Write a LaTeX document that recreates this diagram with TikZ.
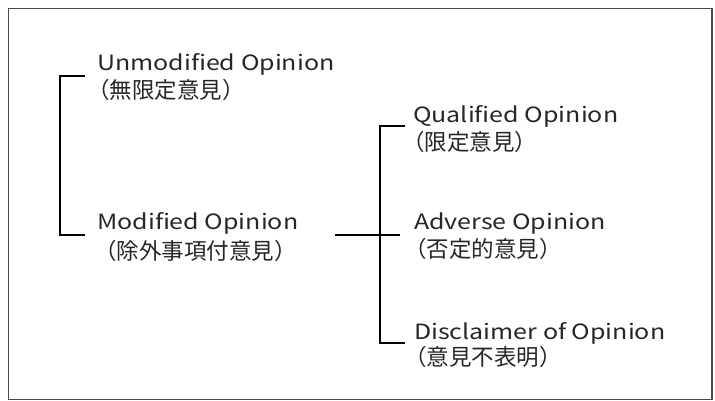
\documentclass[tikz,border=0pt]{standalone}
\usepackage{fontspec}
\setmainfont{Noto Sans CJK JP}
\newfontfamily\latinwide[FakeStretch=1.19]{Noto Sans CJK JP}
\begin{document}
\begin{tikzpicture}[x=1pt,y=-1pt,
  lbl/.style={anchor=base west,inner sep=0pt,font=\latinwide\fontsize{21}{24}\selectfont,text=black!85},
  jlbl/.style={anchor=base west,inner sep=0pt,font=\fontsize{22.5}{26}\selectfont,text=black!85},
  brk/.style={line width=2pt,black},
  frame/.style={line width=1.5pt,draw=black!70}]
\useasboundingbox (0,0) rectangle (715,401);
\draw[frame] (8.5,8.5) rectangle (712,399.5);
% labels
\node[lbl]  (u)  at (97,71)  {Unmodified Opinion};
\node[jlbl] (uj) at (87,99)  {（無限定意見）};
\node[lbl]  (m)  at (97,229) {Modified Opinion};
\node[jlbl] (mj) at (94,259) {（除外事項付意見）};
\node[lbl]  (q)  at (413,123) {Qualified Opinion};
\node[jlbl] (qj) at (402,150) {（限定意見）};
\node[lbl]  (a)  at (414,229) {Adverse Opinion};
\node[jlbl] (aj) at (404,257) {（否定的意見）};
\node[lbl]  (d)  at (414,339) {Disclaimer of Opinion};
\node[jlbl] (dj) at (404,365) {（意見不表明）};
% connector points
\coordinate (ut) at (85,76);
\coordinate (ub) at (85,235);
\coordinate (cl) at (335,235);
\coordinate (cr) at (400,235);
\coordinate (qt) at (405,126);
\coordinate (db) at (405,343);
\draw[brk] (ut) -- (60,76) -- (60,235) -- (ub);
\draw[brk] (cl) -- (cr);
\draw[brk] (qt) -- (380,126) -- (380,343) -- (db);
\end{tikzpicture}
\end{document}
